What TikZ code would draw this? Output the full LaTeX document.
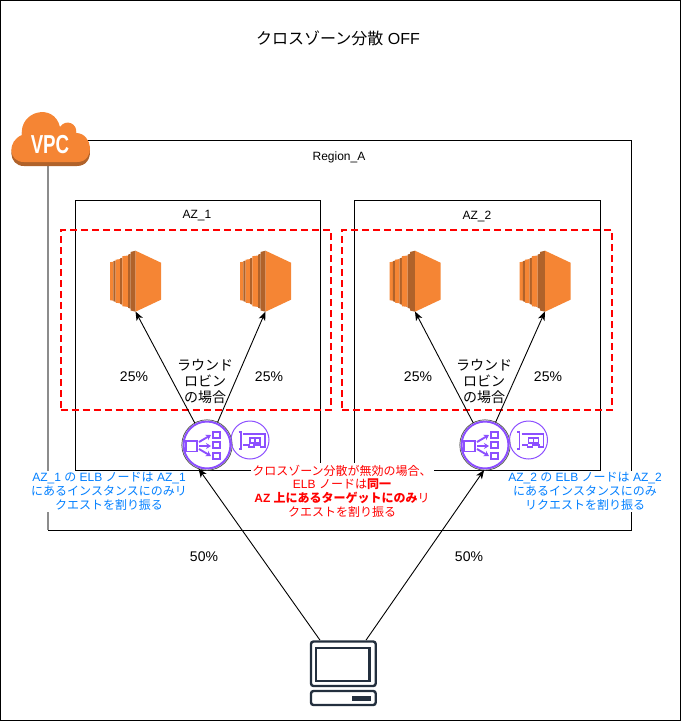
\documentclass[tikz,border=0pt]{standalone}
\usepackage{fontspec}
\setmainfont{Liberation Sans}
\newfontfamily\cjk{Noto Sans CJK JP}
\usetikzlibrary{arrows.meta}
\newcommand{\J}[1]{{\cjk #1}}
\definecolor{awsorange}{HTML}{F58534}
\definecolor{awsdark}{HTML}{B0622A}
\definecolor{elbpurple}{HTML}{8C4FFF}
\definecolor{clientdark}{HTML}{232F3E}
\definecolor{bluetext}{HTML}{007FFF}
\newcommand{\ecicon}[2]{%
 \begin{scope}[shift={(#1,#2)}]
  \fill[awsorange] (0,11.5) -- (3.4,11) -- (3.4,50) -- (0,49.5) -- cycle;
  \fill[awsdark] (3.4,10.5) -- (5.7,9.8) -- (5.7,51.2) -- (3.4,50.5) -- cycle;
  \fill[awsorange] (5.7,9) -- (10,8.4) -- (10,52.6) -- (5.7,52) -- cycle;
  \fill[awsdark] (10,7.8) -- (12.3,7) -- (12.3,54) -- (10,53.2) -- cycle;
  \fill[awsorange] (12.3,5.5) -- (18,4.8) -- (18,56.2) -- (12.3,55.5) -- cycle;
  \fill[awsdark] (18,4) -- (20.7,3) -- (20.7,58) -- (18,57) -- cycle;
  \fill[awsdark] (20.7,1.2) -- (25.5,0) -- (25.5,61) -- (20.7,59.8) -- cycle;
  \fill[awsorange] (25.5,0) -- (51,12) -- (51,49) -- (25.5,61) -- cycle;
 \end{scope}}
\newcommand{\elbicon}[2]{%
 \begin{scope}[shift={(#1,#2)}]
  \draw[iconline] (-21,-4) rectangle (-10,6.5);
  \draw[iconline] (6,-13) rectangle (13,-7);
  \draw[iconline] (6,-3) rectangle (13,3);
  \draw[iconline] (6,8) rectangle (13,14);
  \draw[iconline,-{Stealth[length=5,width=6]}] (-8,-3) -- (4,-10);
  \draw[iconline,-{Stealth[length=5,width=6]}] (-8,1) -- (4,1);
  \draw[iconline,-{Stealth[length=5,width=6]}] (-8,4) -- (4,11);
 \end{scope}}
\newcommand{\eniicon}[2]{%
 \begin{scope}[shift={(#1,#2)}]
  \draw[iconline,line width=1.4] (-11.5,-8) -- (-9,-8) -- (-9,9) -- (-11.5,9);
  \draw[iconline,line width=1.4] (-7,-6) -- (15,-6) -- (15,7) -- (10.5,7) -- (10.5,5) -- (4,5) -- (4,7) -- (-1,7) -- (-1,5) -- (-7,5);
  \draw[iconline,line width=1.2] (0,-2) rectangle (10,3);
  \draw[iconline,line width=1.2] (5,-2) -- (5,3);
 \end{scope}}
\tikzset{
  x=1pt,y=-1pt,
  box/.style={draw=black,line width=1,inner sep=0,outer sep=0},
  zone/.style={draw=red,line width=2,dash pattern=on 7pt off 4pt},
  lbl/.style={font=\fontsize{12}{13.7}\selectfont,align=center,inner sep=0},
  pct/.style={lbl,font=\fontsize{14}{16}\selectfont},
  bluelbl/.style={lbl,text=bluetext,fill=white,minimum height=41},
  redlbl/.style={lbl,text=red,fill=white,minimum height=56,minimum width=183},
  iconline/.style={draw=elbpurple,line width=1.9,fill=none},
  anchorbox/.style={inner sep=0,outer sep=0},
  flow/.style={draw=black,line width=0.9,-{Stealth[length=9,width=7,inset=2.5]}},
  elbring/.style={circle,draw=elbpurple,line width=2,inner sep=0,outer sep=1.5,minimum size=47},
}
\begin{document}
\begin{tikzpicture}
\useasboundingbox (0,0) rectangle (681,721);
\node[box,minimum width=680,minimum height=720] (frame) at (340.5,360.5) {};
\node[lbl,font=\fontsize{16}{18}\selectfont] (title) at (338,38) {\J{クロスゾーン分散} OFF};
\node[box,minimum width=583,minimum height=390] (region) at (339.5,335) {};
\node[lbl] (regionlabel) at (339,157) {Region\_A};
\node[box,minimum width=245.5,minimum height=270] (az1) at (197.9,335) {};
\node[box,minimum width=245.5,minimum height=270] (az2) at (477.3,335) {};
\node[lbl] (az1label) at (197,216) {AZ\_1};
\node[lbl] (az2label) at (477,216) {AZ\_2};
% VPC cloud
\coordinate (vpcfoot) at (48,160);
\coordinate (regionfoot) at (48,530);
\draw[draw=gray!90,line width=2] (vpcfoot) -- (regionfoot);
\begin{scope}[yshift=-2pt]
 \fill[awsdark] (24,164) .. controls (8,164) and (7,141) .. (22,135) .. controls (19,111) and (54,102) .. (60,127) .. controls (66,118) and (78,124) .. (76,133) .. controls (93,133) and (96,164) .. (77,164) -- cycle;
\end{scope}
\fill[awsorange] (24,162) .. controls (8,162) and (7,141) .. (22,135) .. controls (19,111) and (54,102) .. (60,127) .. controls (66,118) and (78,124) .. (76,133) .. controls (93,133) and (96,162) .. (77,162) -- cycle;
\node[anchorbox,text=white,font=\fontsize{26}{26}\selectfont\bfseries,xscale=0.72] (vpc) at (50,145) {VPC};
% dashed zones
\node[zone,minimum width=270,minimum height=180,inner sep=0] (zone1) at (195.5,320) {};
\node[zone,minimum width=270,minimum height=180,inner sep=0] (zone2) at (477,320) {};
% instances
\node[anchorbox,minimum width=51,minimum height=61] (ec2a) at (135.5,281) {};
\node[anchorbox,minimum width=51,minimum height=61] (ec2b) at (265.5,281) {};
\node[anchorbox,minimum width=51,minimum height=61] (ec2c) at (415,281) {};
\node[anchorbox,minimum width=51,minimum height=61] (ec2d) at (545,281) {};
\ecicon{110}{250.7}\ecicon{240}{250.7}\ecicon{389.5}{250.7}\ecicon{519.5}{250.7}
% load balancers
\node[elbring] (elb1) at (207,445) {};
\node[elbring] (elb2) at (485,445) {};
\draw[draw=black!70,line width=0.7] (elb1) circle (25.2);
\draw[draw=black!70,line width=0.7] (elb2) circle (25.2);
\elbicon{207}{445}\elbicon{485}{445}
\node[circle,draw=elbpurple,line width=1,minimum size=38,inner sep=0] (eni1) at (250,440) {};
\node[circle,draw=elbpurple,line width=1,minimum size=38,inner sep=0] (eni2) at (528.5,440) {};
\eniicon{250}{440}\eniicon{528.5}{440}
% client
\node[anchorbox,minimum width=66,minimum height=66] (client) at (343,673) {};
\draw[draw=clientdark,line width=2.4,rounded corners=2.5] (311,641.5) rectangle (375.7,686);
\draw[draw=clientdark,line width=2.4] (316,648) rectangle (369.5,681);
\draw[draw=clientdark,line width=2.4,rounded corners=2.5] (311,691) rectangle (375.7,705);
\fill[clientdark] (352,696) rectangle (371,701);
% connectors
\draw[flow] (elb1.119) -- (ec2a.south);
\draw[flow] (elb1.65) -- (ec2b.south);
\draw[flow] (elb2.118) -- (ec2c.south);
\draw[flow] (elb2.65) -- (ec2d.south);
\draw[flow] (client.125) -- (elb1.250);
\draw[flow] (client.55) -- (elb2.268);
% labels
\node[pct] (p1) at (134,377) {25\%};
\node[pct] (p2) at (269,377) {25\%};
\node[pct] (p3) at (418,377) {25\%};
\node[pct] (p4) at (548,377) {25\%};
\node[pct] (p5) at (204,557) {50\%};
\node[pct] (p6) at (469,557) {50\%};
\node[lbl,font=\fontsize{14}{16}\selectfont\cjk] (rr1) at (205,381) {ラウンド\\ロビン\\の場合};
\node[lbl,font=\fontsize{14}{16}\selectfont\cjk] (rr2) at (484,381) {ラウンド\\ロビン\\の場合};
\node[bluelbl,minimum width=160] (note1) at (109,491.5) {AZ\_1 \J{の} ELB \J{ノードは} AZ\_1\\\J{にあるインスタンスにのみリ}\\\J{クエストを割り振る}};
\node[bluelbl,minimum width=154] (note2) at (585,491.5) {AZ\_2 \J{の} ELB \J{ノードは} AZ\_2\\\J{にあるインスタンスにのみ}\\\J{リクエストを割り振る}};
\node[redlbl] (note3) at (342,491) {\J{クロスゾーン分散が無効の場合、}\\ELB \J{ノードは\bfseries 同一}\\\textbf{AZ \J{\bfseries 上にあるターゲットにのみ}}\J{リ}\\\J{クエストを割り振る}};
\end{tikzpicture}
\end{document}
